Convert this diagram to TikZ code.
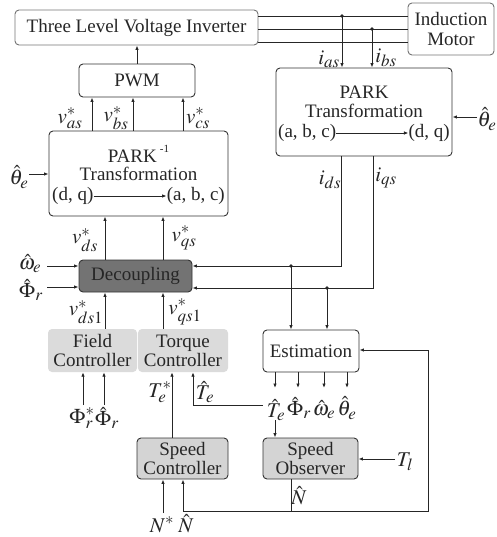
\documentclass[tikz,border=0pt]{standalone}
\usepackage{mathptmx}
\usepackage{fontspec}
\setmainfont{Liberation Serif}
\DeclareMathSizes{21}{21}{17}{14}
\usetikzlibrary{arrows.meta,calc}
\begin{document}
\begin{tikzpicture}[x=1pt,y=-1pt,
  every node/.style={font=\fontsize{19}{19}\selectfont, inner sep=0pt, text=black!85},
  lab/.style={font=\fontsize{21}{21}\selectfont},
  wire/.style={draw=black!85, line width=0.9pt},
  arr/.style={wire, -{Latex[length=4.5pt,width=3.5pt]}},
  box/.style={draw=black!80, line width=0.9pt, rounded corners=4pt, align=center},
  lbox/.style={draw=black!55, line width=0.9pt, rounded corners=4pt, align=center},
  gbox/.style={fill=black!14, rounded corners=4pt, align=center},
  sbox/.style={box, fill=black!17},
  dbox/.style={box, fill=black!55},
  dot/.style={fill=black!85}
]
\useasboundingbox (0,0) rectangle (496,537);

% ---- boxes
\node[lbox, minimum width=243pt, minimum height=35pt] (inv) at (136.5,27.5) {Three Level Voltage Inverter};
\node[lbox, minimum width=86pt, minimum height=52pt] (mot) at (451,29) {Induction\\[1pt]Motor};
\node[box, minimum width=116pt, minimum height=33pt] (pwm) at (137,80.5) {PWM};
\node[box, minimum width=176pt, minimum height=88pt] (park) at (364,112) {};
\node[box, minimum width=179pt, minimum height=85pt] (ipark) at (138.5,173.5) {};
\node[dbox, minimum width=113pt, minimum height=32pt] (dec) at (135.5,276) {Decoupling};
\node[gbox, minimum width=89pt, minimum height=43pt] (field) at (92.5,350.5) {Field\\Controller};
\node[gbox, minimum width=90pt, minimum height=43pt] (torque) at (183,350.5) {Torque\\Controller};
\node[box, minimum width=96pt, minimum height=42pt] (est) at (311,351) {Estimation};
\node[sbox, minimum width=91pt, minimum height=41pt] (spc) at (182.5,458.5) {Speed\\Controller};
\node[sbox, minimum width=95pt, minimum height=41pt] (spo) at (310.5,458.5) {Speed\\Observer};

% ---- texts inside PARK boxes
\node (parkt1) at (364,92) {PARK};
\node (parkt2) at (364,111) {Transformation};
\node[anchor=west] (abc1) at (278,133) {(a, b, c)};
\node[anchor=east] (dq1) at (450,133) {(d, q)};
\draw[arr] (abc1.east) -- (dq1.west);

\node (iparkt1) at (138.5,154) {PARK\,\raisebox{1.1ex}{\fontsize{11}{11}\selectfont -1}};
\node (iparkt2) at (138.5,174) {Transformation};
\node[anchor=west] (dq2) at (52,196) {(d, q)};
\node[anchor=east] (abc2) at (225,196) {(a, b, c)};
\draw[arr] (dq2.east) -- (abc2.west);

% ---- inverter to motor lines
\coordinate (ya) at (300,16);
\coordinate (yb) at (300,29);
\coordinate (yc) at (300,42);
\draw[wire] (inv.east |- ya) -- (mot.west |- ya);
\draw[wire] (inv.east |- yb) -- (mot.west |- yb);
\draw[wire] (inv.east |- yc) -- (mot.west |- yc);
\coordinate (da) at (342,16);
\coordinate (db) at (372,29);
\fill[dot] (da) circle (1.9pt);
\fill[dot] (db) circle (1.9pt);
\draw[arr] (da) -- (park.north -| da);
\draw[arr] (db) -- (park.north -| db);
\node[lab] (ias) at (329,59) {$i_{as}$};
\node[lab] (ibs) at (386,58) {$i_{bs}$};

% ---- PWM to inverter
\draw[arr] (pwm.north) -- (inv.south -| pwm.north);

% ---- inverse park to PWM
\coordinate (xas) at (92,0);
\coordinate (xbs) at (133,0);
\coordinate (xcs) at (183,0);
\draw[arr] (ipark.north -| xas) -- (pwm.south -| xas);
\draw[arr] (ipark.north -| xbs) -- (pwm.south -| xbs);
\draw[arr] (ipark.north -| xcs) -- (pwm.south -| xcs);
\node[lab] (vas) at (70,118) {$v^*_{as}$};
\node[lab] (vbs) at (116,118) {$v^*_{bs}$};
\node[lab] (vcs) at (198,118) {$v^*_{cs}$};

% ---- theta inputs
\node[lab] (th1) at (19,177) {$\hat\theta_e$};
\draw[arr] (29,174) coordinate (th1e) -- (ipark.west |- th1e);
\node[lab] (th2) at (487,119) {$\hat\theta_e$};
\coordinate (th2w) at (477,117);
\draw[arr] (th2w) -- (park.east |- th2w);

% ---- park outputs i_ds, i_qs
\coordinate (xds) at (341,266);
\coordinate (xqs) at (373,288);
\draw[arr] (park.south -| xds) -- (xds) -- (dec.east |- xds);
\draw[arr] (park.south -| xqs) -- (xqs) -- (dec.east |- xqs);
\node[lab] (ids) at (330,180) {$i_{ds}$};
\node[lab] (iqs) at (386,178) {$i_{qs}$};
\coordinate (dc) at (291,266);
\coordinate (dd) at (327,288);
\fill[dot] (dc) circle (1.9pt);
\fill[dot] (dd) circle (1.9pt);
\draw[arr] (dc) -- (est.north -| dc);
\draw[arr] (dd) -- (est.north -| dd);

% ---- decoupling to inverse park
\coordinate (xd) at (105,0);
\coordinate (xq) at (163,0);
\draw[arr] (dec.north -| xd) -- (ipark.south -| xd);
\draw[arr] (dec.north -| xq) -- (ipark.south -| xq);
\node[lab] (vds) at (85,240) {$v^*_{ds}$};
\node[lab] (vqs) at (184,238) {$v^*_{qs}$};

% ---- decoupling side inputs
\node[lab] (we) at (30,264) {$\hat\omega_e$};
\node[lab] (ph) at (31,290) {$\hat\Phi_r$};
\coordinate (wy) at (47,266);
\coordinate (py) at (47,287);
\draw[arr] (wy) -- (dec.west |- wy);
\draw[arr] (py) -- (dec.west |- py);

% ---- controllers to decoupling
\draw[arr] (field.north -| xd) -- (dec.south -| xd);
\draw[arr] (torque.north -| xq) -- (dec.south -| xq);
\node[lab] (vds1) at (86,312) {$v^*_{ds1}$};
\node[lab] (vqs1) at (185,312) {$v^*_{qs1}$};

% ---- field controller inputs
\node[lab] (phs) at (82,418) {$\Phi^*_r$};
\node[lab] (phh) at (107,418) {$\hat\Phi_r$};
\coordinate (fa) at (83,405);
\coordinate (fb) at (104,405);
\draw[arr] (fa) -- (field.south -| fa);
\draw[arr] (fb) -- (field.south -| fb);

% ---- speed controller to torque controller
\coordinate (xte) at (172,0);
\draw[arr] (spc.north -| xte) -- (torque.south -| xte);
\node[lab] (tes) at (160,392) {$T^*_e$};

% ---- estimation outputs
\node[lab] (oT) at (276,410) {$\hat T_e$};
\node[lab] (oP) at (299,408) {$\hat\Phi_r$};
\node[lab] (oW) at (324,410) {$\hat\omega_e$};
\node[lab] (oTh) at (347,408) {$\hat\theta_e$};
\foreach \xx in {275,298,324,347} {
  \draw[arr] (est.south -| \xx,0) -- (\xx,388);
}
\coordinate (tfb) at (193,405);
\draw[arr] (263,405) coordinate (tfs) -- (tfb) -- (torque.south -| tfb);
\node[lab] (teh) at (205,392) {$\hat T_e$};
\draw[arr] (275,420) coordinate (tso) -- (spo.north -| tso);

% ---- load torque
\node[lab] (tl) at (405,462) {$T_l$};
\coordinate (tly) at (395,459);
\draw[arr] (tly) -- (spo.east |- tly);

% ---- speed feedback loop
\coordinate (nb) at (291,511);
\coordinate (nl) at (183,511);
\coordinate (nr) at (428,511);
\coordinate (ny) at (428,350);
\draw[wire] (spo.south -| nb) -- (nb);
\draw[arr] (nb) -- (nl) -- (spc.south -| nl);
\draw[arr] (nb) -- (nr) -- (ny) -- (est.east |- ny);
\node[lab] (nh1) at (299,496) {$\hat N$};
\coordinate (nsy) at (163,513);
\draw[arr] (nsy) -- (spc.south -| nsy);
\node[lab] (ns) at (162,525) {$N^*$};
\node[lab] (nh2) at (186,524) {$\hat N$};
\end{tikzpicture}
\end{document}
